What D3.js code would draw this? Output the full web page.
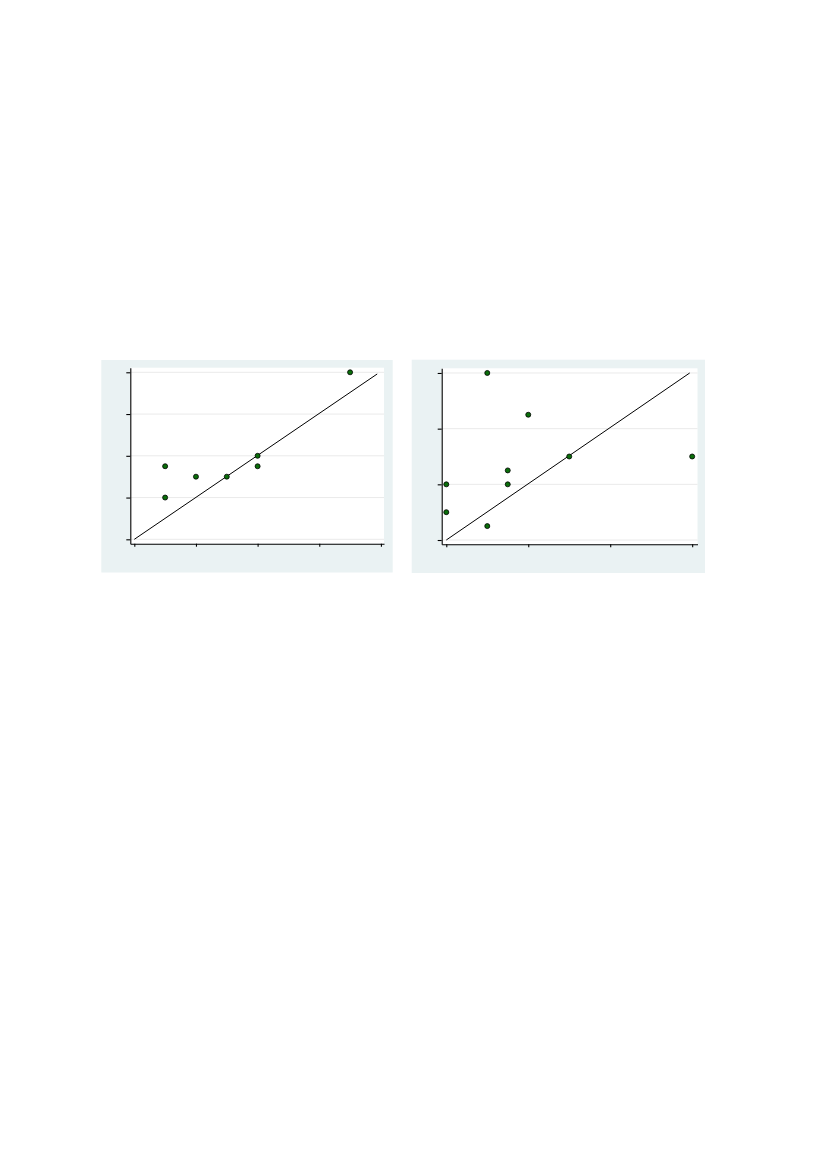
<!DOCTYPE html>
<html>
<head>
<meta charset="utf-8">
<script src="https://cdn.jsdelivr.net/npm/d3@7"></script>
<style>
  body { margin: 0; background: #fff; }
</style>
</head>
<body>
<div id="chart"></div>
<script>
// Left panel data
const leftX = [0.5, 0.5, 1, 1.5, 2, 2, 3.5];
const leftY = [1.75, 1, 1.5, 1.5, 2, 1.75, 4];
const leftTicksX = [0, 1, 2, 3, 4];
const leftTicksY = [0, 1, 2, 3, 4];
const leftLine = [[0, 0], [3.94, 3.96]];

// Right panel data
const rightX = [0, 0, 0.5, 0.5, 0.75, 0.75, 1, 1.5, 3];
const rightY = [0.5, 1, 3, 0.25, 1.25, 1, 2.25, 1.5, 1.5];
const rightTicksX = [0, 1, 2, 3];
const rightTicksY = [0, 1, 2, 3];
const rightLine = [[0, 0], [2.97, 3]];

const svg = d3
  .select("#chart")
  .append("svg")
  .attr("width", 827)
  .attr("height", 1169);

function drawPanel(cfg) {
  const g = svg.append("g");

  // outer background
  g.append("rect")
    .attr("x", cfg.bg[0])
    .attr("y", cfg.bg[1])
    .attr("width", cfg.bg[2] - cfg.bg[0])
    .attr("height", cfg.bg[3] - cfg.bg[1])
    .attr("fill", "#eaf2f3");

  const xScale = d3.scaleLinear().domain(cfg.xDomain).range([cfg.plot[0], cfg.plot[2]]);
  const yScale = d3.scaleLinear().domain(cfg.yDomain).range([cfg.plot[3], cfg.plot[1]]);

  // plot region
  g.append("rect")
    .attr("x", cfg.plot[0])
    .attr("y", cfg.plot[1])
    .attr("width", cfg.plot[2] - cfg.plot[0])
    .attr("height", cfg.plot[3] - cfg.plot[1])
    .attr("fill", "#fff");

  // horizontal gridlines
  g.selectAll(".grid")
    .data(cfg.ticksY)
    .enter()
    .append("line")
    .attr("x1", cfg.plot[0])
    .attr("x2", cfg.plot[2])
    .attr("y1", (d) => yScale(d))
    .attr("y2", (d) => yScale(d))
    .attr("stroke", "#eaeaea")
    .attr("stroke-width", 1);

  // axes
  const yAxis = g.append("g")
    .attr("transform", `translate(${cfg.plot[0]},0)`)
    .call(d3.axisLeft(yScale).tickValues(cfg.ticksY).tickFormat("").tickSize(4).tickSizeOuter(0));
  const xAxis = g.append("g")
    .attr("transform", `translate(0,${cfg.plot[3]})`)
    .call(d3.axisBottom(xScale).tickValues(cfg.ticksX).tickFormat("").tickSize(3).tickSizeOuter(0));
  [xAxis, yAxis].forEach((a) => {
    a.selectAll("path, line").attr("stroke", "#000").attr("stroke-width", 1.1);
  });

  // 45 degree reference line
  g.append("line")
    .attr("x1", xScale(cfg.line[0][0]))
    .attr("y1", yScale(cfg.line[0][1]))
    .attr("x2", xScale(cfg.line[1][0]))
    .attr("y2", yScale(cfg.line[1][1]))
    .attr("stroke", "#000")
    .attr("stroke-width", 1);

  // markers
  g.selectAll(".dot")
    .data(cfg.xs.map((x, i) => ({ x: x, y: cfg.ys[i] })))
    .enter()
    .append("circle")
    .attr("cx", (d) => xScale(d.x))
    .attr("cy", (d) => yScale(d.y))
    .attr("r", 2.5)
    .attr("fill", "#0a6e0a")
    .attr("stroke", "#000")
    .attr("stroke-width", 0.8);
}

drawPanel({
  bg: [101.3, 360, 392.7, 572.5],
  plot: [130.3, 367.7, 384, 543.7],
  xDomain: [-0.065, 4.05],
  yDomain: [-0.105, 4.11],
  ticksX: leftTicksX,
  ticksY: leftTicksY,
  line: leftLine,
  xs: leftX,
  ys: leftY,
});

drawPanel({
  bg: [411.7, 359.7, 705, 573],
  plot: [441.7, 368.3, 697.5, 544.3],
  xDomain: [-0.056, 3.065],
  yDomain: [-0.077, 3.084],
  ticksX: rightTicksX,
  ticksY: rightTicksY,
  line: rightLine,
  xs: rightX,
  ys: rightY,
});
</script>
</body>
</html>
